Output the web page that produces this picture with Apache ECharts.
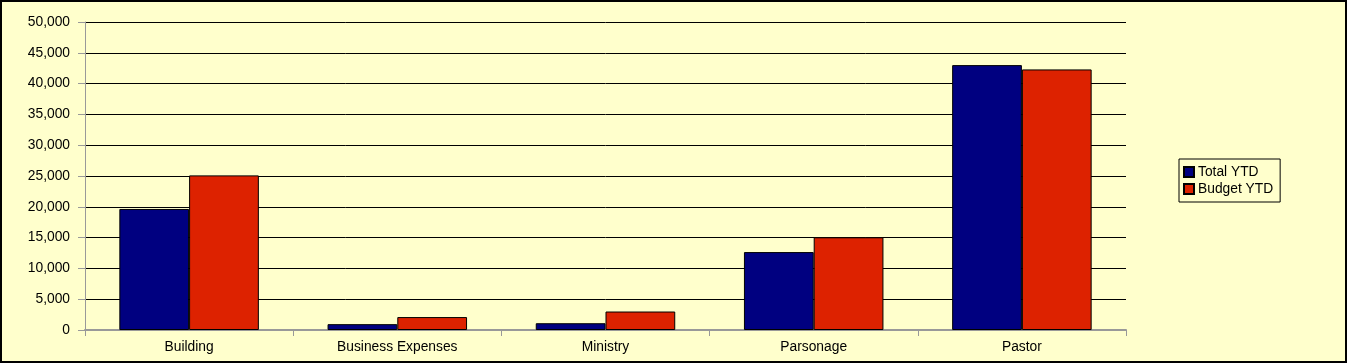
<!DOCTYPE html>
<html>
<head>
<meta charset="utf-8">
<script src="https://cdn.jsdelivr.net/npm/echarts@6/dist/echarts.min.js"></script>
<style>html,body{margin:0;padding:0;background:#FFFFCC;}#c{width:1347px;height:363px;}</style>
</head>
<body>
<div id="c"></div>
<script>
const categories = ['Building', 'Business Expenses', 'Ministry', 'Parsonage', 'Pastor'];
const totalYTD = [19650, 950, 1100, 12650, 43000];
const budgetYTD = [25100, 2100, 3000, 15050, 42300];
const seriesNames = ['Total YTD', 'Budget YTD'];

const chart = echarts.init(document.getElementById('c'), null, {renderer: 'canvas'});
const font = 'Liberation Sans, Arial, sans-serif';
const fs = 13.8;
chart.setOption({
  backgroundColor: '#FFFFCC',
  animation: false,
  textStyle: {fontFamily: font},
  graphic: [{
    type: 'rect', shape: {x: 1, y: 1, width: 1345, height: 361},
    style: {fill: 'none', stroke: '#000', lineWidth: 2}, silent: true
  }],
  grid: {left: 85, right: 221, top: 22, bottom: 33, containLabel: false},
  legend: {
    orient: 'vertical', left: 1179, top: 159,
    data: seriesNames,
    itemWidth: 10, itemHeight: 10, itemGap: 3,
    padding: [6, 7, 6, 4],
    borderColor: '#000', borderWidth: 1,
    textStyle: {fontFamily: font, fontSize: fs, color: '#000', padding: [0, 0, 0, -1]},
    icon: 'rect'
  },
  xAxis: {
    type: 'category', data: categories,
    axisLine: {lineStyle: {color: '#999', width: 2}},
    axisTick: {show: true, length: 6, lineStyle: {color: '#999'}},
    axisLabel: {color: '#000', fontSize: fs, margin: 10, fontFamily: font}
  },
  yAxis: {
    type: 'value', min: 0, max: 50000, interval: 5000,
    axisLine: {show: true, lineStyle: {color: '#999', width: 1}},
    axisTick: {show: true, length: 7, lineStyle: {color: '#999'}},
    axisLabel: {color: '#000', fontSize: fs, margin: 15, fontFamily: font,
      formatter: v => v.toLocaleString('en-US')},
    splitLine: {lineStyle: {color: '#000', width: 1}}
  },
  series: [
    {name: seriesNames[0], type: 'bar', data: totalYTD, barGap: '0%', barCategoryGap: '33%',
     itemStyle: {color: '#000080', borderColor: '#000', borderWidth: 1}},
    {name: seriesNames[1], type: 'bar', data: budgetYTD, barGap: '0%', barCategoryGap: '33%',
     itemStyle: {color: '#DD2200', borderColor: '#000', borderWidth: 1}}
  ]
});
</script>
</body>
</html>
